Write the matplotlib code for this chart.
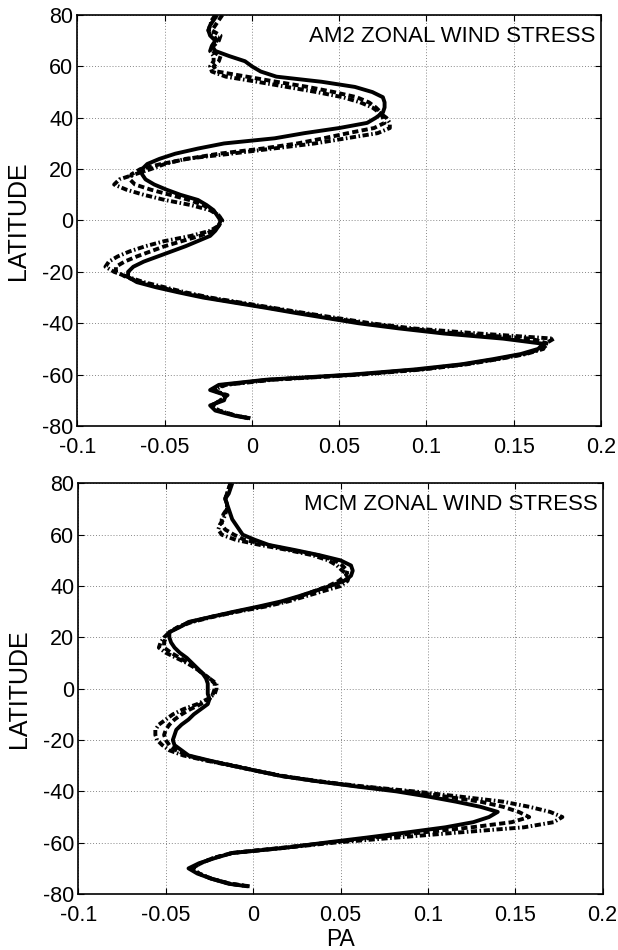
import matplotlib
matplotlib.use("Agg")
import matplotlib.pyplot as plt
import numpy as np

plt.rcParams['font.family'] = ['Liberation Sans', 'DejaVu Sans']
plt.rcParams['axes.unicode_minus'] = False

# ---------------- data ----------------
latitude = [80, 78, 76, 74, 72, 70, 68, 66, 64, 62, 60, 58, 56, 54, 52, 50, 48, 46, 44, 42,
            40, 38, 36, 34, 32, 30, 28, 26, 24, 22, 20, 18, 16, 14, 12, 10, 8, 6, 4, 2,
            0, -2, -4, -6, -8, -10, -12, -14, -16, -18, -20, -22, -24, -26, -28, -30, -32, -34, -36, -38,
            -40, -42, -44, -46, -48, -50, -52, -54, -56, -58, -60, -62, -64, -66, -68, -70, -72, -74, -76, -77]

am2_solid = [-0.020, -0.022, -0.024, -0.025, -0.024, -0.021, -0.023, -0.021, -0.013, -0.004,
             0.000, 0.005, 0.014, 0.040, 0.059, 0.069, 0.075, 0.076, 0.076, 0.075,
             0.071, 0.066, 0.050, 0.030, 0.013, -0.016, -0.031, -0.044, -0.053, -0.060,
             -0.063, -0.063, -0.061, -0.056, -0.049, -0.041, -0.031, -0.026, -0.022, -0.020,
             -0.018, -0.019, -0.021, -0.024, -0.031, -0.038, -0.046, -0.054, -0.062, -0.068,
             -0.071, -0.071, -0.066, -0.055, -0.042, -0.028, -0.010, 0.008, 0.025, 0.043,
             0.061, 0.084, 0.110, 0.144, 0.167, 0.164, 0.154, 0.138, 0.120, 0.093,
             0.057, 0.008, -0.019, -0.024, -0.015, -0.016, -0.024, -0.021, -0.010, -0.002]

am2_dashed = [-0.017, -0.019, -0.021, -0.023, -0.018, -0.019, -0.022, -0.023, -0.018, -0.019,
              -0.022, -0.020, -0.003, 0.014, 0.032, 0.047, 0.060, 0.067, 0.071, 0.074,
              0.075, 0.076, 0.070, 0.055, 0.041, 0.026, 0.006, -0.019, -0.037, -0.052,
              -0.064, -0.069, -0.070, -0.067, -0.058, -0.047, -0.036, -0.028, -0.023, -0.019,
              -0.018, -0.019, -0.022, -0.030, -0.040, -0.050, -0.058, -0.066, -0.073, -0.078,
              -0.078, -0.072, -0.064, -0.053, -0.040, -0.026, -0.008, 0.010, 0.028, 0.046,
              0.065, 0.088, 0.118, 0.160, 0.170, 0.166, 0.156, 0.140, 0.122, 0.096,
              0.060, 0.010, -0.016, -0.023, -0.014, -0.018, -0.023, -0.019, -0.009, -0.001]

am2_dashdot = [-0.021, -0.023, -0.024, -0.025, -0.022, -0.020, -0.023, -0.024, -0.022, -0.022,
               -0.024, -0.023, -0.015, 0.003, 0.020, 0.037, 0.052, 0.062, 0.069, 0.073,
               0.077, 0.079, 0.079, 0.072, 0.054, 0.036, 0.012, -0.012, -0.038, -0.050,
               -0.058, -0.067, -0.076, -0.079, -0.072, -0.062, -0.050, -0.035, -0.024, -0.019,
               -0.017, -0.019, -0.024, -0.035, -0.050, -0.061, -0.070, -0.077, -0.082, -0.084,
               -0.079, -0.071, -0.062, -0.050, -0.038, -0.024, -0.006, 0.012, 0.030, 0.049,
               0.068, 0.092, 0.130, 0.173, 0.168, 0.167, 0.157, 0.141, 0.123, 0.098,
               0.062, 0.012, -0.015, -0.022, -0.015, -0.018, -0.023, -0.019, -0.009, -0.001]

mcm_solid = [-0.012, -0.013, -0.014, -0.016, -0.015, -0.014, -0.013, -0.012, -0.010, -0.008,
             -0.006, 0.001, 0.009, 0.024, 0.038, 0.050, 0.056, 0.057, 0.056, 0.052,
             0.044, 0.035, 0.026, 0.016, 0.003, -0.011, -0.024, -0.037, -0.042, -0.048,
             -0.048, -0.047, -0.045, -0.042, -0.038, -0.035, -0.032, -0.029, -0.027, -0.026,
             -0.026, -0.026, -0.025, -0.026, -0.030, -0.034, -0.037, -0.041, -0.044, -0.045,
             -0.046, -0.045, -0.041, -0.037, -0.025, -0.012, 0.002, 0.016, 0.036, 0.058,
             0.082, 0.100, 0.116, 0.130, 0.140, 0.135, 0.126, 0.110, 0.088, 0.065,
             0.041, 0.018, -0.012, -0.022, -0.031, -0.037, -0.032, -0.024, -0.014, -0.003]

mcm_dashed = [-0.013, -0.014, -0.015, -0.016, -0.015, -0.015, -0.017, -0.018, -0.018, -0.016,
              -0.011, -0.005, 0.008, 0.022, 0.037, 0.047, 0.051, 0.054, 0.053, 0.049,
              0.043, 0.035, 0.027, 0.018, 0.005, -0.010, -0.024, -0.036, -0.043, -0.048,
              -0.050, -0.051, -0.051, -0.047, -0.042, -0.037, -0.033, -0.029, -0.025, -0.022,
              -0.022, -0.023, -0.025, -0.030, -0.036, -0.041, -0.045, -0.048, -0.050, -0.051,
              -0.050, -0.048, -0.044, -0.038, -0.026, -0.011, 0.002, 0.016, 0.036, 0.060,
              0.088, 0.110, 0.130, 0.143, 0.152, 0.158, 0.148, 0.125, 0.097, 0.069,
              0.043, 0.016, -0.012, -0.023, -0.030, -0.035, -0.031, -0.024, -0.013, -0.002]

mcm_dashdot = [-0.013, -0.014, -0.015, -0.016, -0.015, -0.015, -0.016, -0.017, -0.019, -0.020,
               -0.018, -0.010, 0.004, 0.020, 0.034, 0.043, 0.048, 0.051, 0.055, 0.054,
               0.050, 0.040, 0.030, 0.020, 0.007, -0.009, -0.023, -0.035, -0.043, -0.048,
               -0.051, -0.053, -0.054, -0.050, -0.044, -0.038, -0.033, -0.029, -0.025, -0.021,
               -0.021, -0.022, -0.026, -0.032, -0.040, -0.046, -0.050, -0.054, -0.056, -0.056,
               -0.055, -0.052, -0.048, -0.040, -0.027, -0.012, 0.002, 0.017, 0.037, 0.062,
               0.092, 0.118, 0.143, 0.158, 0.170, 0.177, 0.172, 0.155, 0.118, 0.082,
               0.046, 0.018, -0.012, -0.023, -0.030, -0.035, -0.031, -0.024, -0.013, -0.002]

panel_titles = ["AM2 ZONAL WIND STRESS", "MCM ZONAL WIND STRESS"]
x_ticks = [-0.1, -0.05, 0, 0.05, 0.1, 0.15, 0.2]
x_tick_labels = ["-0.1", "-0.05", "0", "0.05", "0.1", "0.15", "0.2"]
y_ticks = [80, 60, 40, 20, 0, -20, -40, -60, -80]
y_tick_labels = ["80", "60", "40", "20", "0", "-20", "-40", "-60", "-80"]

# ---------------- figure ----------------
fig = plt.figure(figsize=(6.18, 9.5), dpi=100)
ax_top = fig.add_axes([0.1254, 0.5516, 0.847, 0.4326])
ax_bot = fig.add_axes([0.1270, 0.0589, 0.848, 0.4323])

lw = 2.8
styles = [dict(linestyle='-'),
          dict(linestyle=(0, (1.6, 0.85))),
          dict(linestyle=(0, (1.6, 0.65, 0.4, 0.65)))]

panels = [(ax_top, [am2_solid, am2_dashed, am2_dashdot], panel_titles[0]),
          (ax_bot, [mcm_solid, mcm_dashed, mcm_dashdot], panel_titles[1])]

for ax, series, title in panels:
    for vals, st in zip(series, styles):
        ax.plot(vals, latitude, color='black', lw=lw, solid_capstyle='butt',
                dash_capstyle='butt', **st)
    ax.set_xlim(-0.1, 0.2)
    ax.set_ylim(-80, 80)
    ax.set_xticks(x_ticks)
    ax.set_xticklabels(x_tick_labels)
    ax.set_yticks(y_ticks)
    ax.set_yticklabels(y_tick_labels)
    ax.grid(True, linestyle=(0, (1, 2)), color='#888888', linewidth=0.7)
    ax.tick_params(direction='in', top=True, right=True, length=4, width=0.8,
                   labelsize=15.5)
    ax.tick_params(axis='x', pad=8)
    ax.tick_params(axis='y', pad=3)
    for sp in ax.spines.values():
        sp.set_linewidth(1.2)
    ax.set_ylabel("LATITUDE", fontsize=18)
    ax.yaxis.label.set_va('center')
    ax.yaxis.set_label_coords(-0.113, 0.5)
    ax.text(0.99, 0.948, title, transform=ax.transAxes, ha='right', va='center',
            fontsize=16)

ax_bot.set_xlabel("PA", fontsize=16.5)
ax_bot.xaxis.label.set_va('center')
ax_bot.xaxis.set_label_coords(0.5, -0.11)

fig.savefig("out.png", dpi=100)
